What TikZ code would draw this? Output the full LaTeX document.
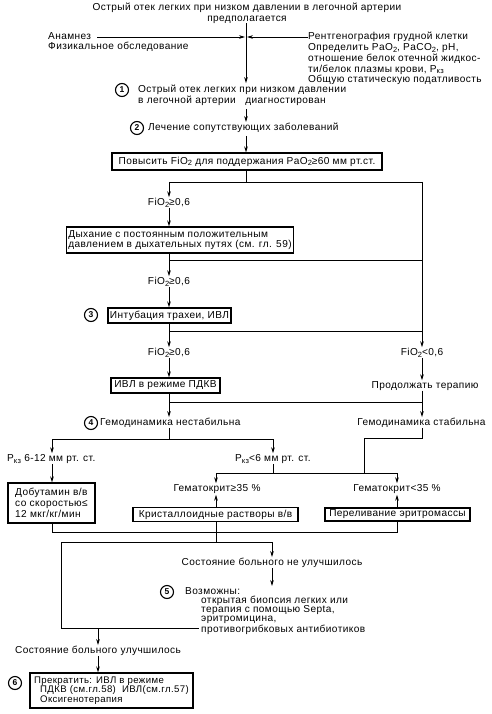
\documentclass[tikz,border=0pt]{standalone}
\usepackage{fontspec}
\setmainfont{Liberation Sans}[LetterSpace=4]
\usetikzlibrary{arrows.meta,calc}
\newcommand\lsub[1]{\raisebox{-0.35ex}{\fontsize{7.5}{7.5}\selectfont #1}}
\begin{document}
\begin{tikzpicture}[x=1pt,y=-1pt,
  every node/.style={font=\fontsize{10.1}{10.8}\selectfont, inner sep=0pt},
  ln/.style={line width=0.8pt},
  arr/.style={line width=0.8pt,-{Stealth[length=6pt,width=3.6pt]},shorten >=1pt},
  box/.style={draw,line width=1.2pt,inner xsep=2pt,inner ysep=2pt,align=left},
  num/.style={draw,circle,line width=1.1pt,minimum size=13pt,font=\bfseries\fontsize{8.5}{8.5}\selectfont},
  txt/.style={align=left}]
\useasboundingbox[fill=white] (0,0) rectangle (491,714);

% top
\node[align=center] (top) at (247,13) {Острый отек легких при низком давлении в легочной артерии\\предполагается};
\node[txt,anchor=north west] (left) at (48,32) {Анамнез\\Физикальное обследование};
\node[txt,anchor=north west] (right) at (308,32) {Рентгенография грудной клетки\\Определить PaO\lsub{2}, PaCO\lsub{2}, pH,\\отношение белок отечной жидкос-\\ти/белок плазмы крови, P\lsub{кз}\\Общую статическую податливость};
\coordinate (aL) at (97,37);
\coordinate (aR) at (308,37);
\coordinate (hitL) at (245,37);
\coordinate (hitR) at (247,37);
\draw[arr,shorten >=0pt] (aL) -- (hitL);
\draw[arr,shorten >=0pt] (aR) -- (hitR);

% step 1, 2
\node[num] (n1) at (122,90) {1};
\node[txt,anchor=west] (s1) at (138,95.5) {Острый отек легких при низком давлении\\в легочной артерии \ \ диагностирован};
\node[num] (n2) at (137,128) {2};
\node[anchor=west] (s2) at (148,128) {Лечение сопутствующих заболеваний};
\coordinate (col) at (246,0);
\draw[arr,shorten >=2pt] (top.south -| col) -- (s1.north -| col);
\draw[arr] ($(s1.south -| col)+(0,3)$) -- (s2.north -| col);

\node[box,minimum width=270pt,minimum height=17pt] (b1) at (247,161.5) {Повысить FiO\lsub{2} для поддержания PaO\lsub{2}≥60 мм рт.ст.};
\draw[arr,shorten >=0pt] ($(s2.south -| col)+(0,3)$) -- (b1.north -| col);

% branch 1
\coordinate (j1) at (246,182);
\coordinate (jL1) at (169,182);
\coordinate (jR1) at (422,182);
\draw[ln] (b1.south -| j1) -- (j1);
\draw[ln] (jL1) -- (jR1);
\node (f1) at (169,203) {FiO\lsub{2}≥0,6};
\draw[arr] (jL1) -- (f1.north -| jL1);
\node[box,minimum width=226pt,minimum height=26pt] (b2) at (180,240) {Дыхание с постоянным положительным\\давлением в дыхательных путях (см. гл. 59)};
\draw[arr,shorten >=0pt] (f1.south -| jL1) -- (b2.north -| jL1);

\coordinate (jL2) at (169,260);
\coordinate (jR2) at (422,260);
\draw[ln] (b2.south -| jL2) -- (jL2) -- (jR2);
\node (f2) at (169,282) {FiO\lsub{2}≥0,6};
\draw[arr] (jL2) -- (f2.north -| jL2);
\node[box,minimum width=121pt,minimum height=15pt] (b3) at (169.5,315.5) {Интубация трахеи, ИВЛ};
\node[num] (n3) at (91,315) {3};
\draw[arr,shorten >=0pt] (f2.south -| jL2) -- (b3.north -| jL2);

\coordinate (jL3) at (169,331);
\coordinate (jR3) at (422,331);
\draw[ln] (b3.south -| jL3) -- (jL3) -- (jR3);
\node (f3) at (169,353) {FiO\lsub{2}≥0,6};
\draw[arr] (jL3) -- (f3.north -| jL3);
\node (f4) at (422,353) {FiO\lsub{2}<0,6};
\draw[arr] (jR1) -- (f4.north -| jR1);

\node[box,minimum width=109pt,minimum height=15pt] (b4) at (165.5,385.5) {ИВЛ в режиме ПДКВ};
\draw[arr,shorten >=0pt] (f3.south -| jL3) -- (b4.north -| jL3);
\node (p1) at (425,386) {Продолжать терапию};
\draw[arr] (f4.south -| jR1) -- (p1.north -| jR1);

\coordinate (jL4) at (169,402);
\coordinate (jR4) at (422,402);
\draw[ln] (b4.south -| jL4) -- (jL4) -- (jR4);
\draw[ln] (p1.south -| jR4) -- (jR4);
\node[anchor=west] (h1) at (100,423) {Гемодинамика нестабильна};
\node[num] (n4) at (91,423) {4};
\node (h2) at (421.5,423) {Гемодинамика стабильна};
\draw[arr] (jL4) -- (h1.north -| jL4);
\draw[arr] (jR4) -- (h2.north -| jR4);

% unstable split
\coordinate (jU) at (169,439);
\coordinate (uL) at (52,439);
\coordinate (uR) at (273,439);
\draw[ln] (h1.south -| jU) -- (jU);
\draw[ln] (uL) -- (uR);
\node[anchor=west] (k1) at (7,459) {P\lsub{кз} 6-12 мм рт. ст.};
\node[anchor=west] (k2) at (235,459) {P\lsub{кз}<6 мм рт. ст.};
\draw[arr] (uL) -- (k1.north -| uL);
\draw[arr] (uR) -- (k2.north -| uR);

% stable path
\coordinate (st1) at (422,438);
\coordinate (st2) at (364,438);
\coordinate (gL) at (216,473);
\coordinate (gR) at (397,473);
\draw[ln] (h2.south -| st1) -- (st1) -- (st2) -- (st2 |- gL);
\draw[ln] (gL) -- (gR);
\draw[ln] (k2.south -| uR) -- (uR |- gL);
\node (g1) at (217,489) {Гематокрит≥35 \%};
\node (g2) at (397,489) {Гематокрит<35 \%};
\draw[arr] (gL) -- (g1.north -| gL);
\draw[arr] (gR) -- (g2.north -| gR);

\node[box,minimum width=165pt,minimum height=13pt] (kris) at (215.5,514.5) {Кристаллоидные растворы в/в};
\node[box,minimum width=145pt,minimum height=13pt] (perel) at (397.5,514.5) {Переливание эритромассы};
\node[box,minimum width=87pt,minimum height=40pt] (dob) at (51.5,503) {Добутамин в/в\\со скоростью≤\\12 мкг/кг/мин};
\draw[arr] (kris.north -| gL) -- (g1.south -| gL);
\draw[arr] (perel.north -| gR) -- (g2.south -| gR);
\draw[arr,shorten >=0pt] (k1.south -| uL) -- (dob.north -| uL);

% bottom
\coordinate (bL) at (52,532);
\coordinate (bR) at (397,532);
\coordinate (mL) at (61,542);
\coordinate (mR) at (272,542);
\draw[ln] (dob.south -| bL) -- (bL) -- (bR) -- (perel.south -| bR);
\draw[ln] (kris.south -| gL) -- (gL |- mL);
\draw[ln] (mL) -- (mR);
\node (ni) at (272,563) {Состояние больного не улучшилось};
\draw[arr] (mR) -- (ni.north -| mR);
\node[num] (n5) at (167,592) {5};
\node[txt,anchor=north west,font=\fontsize{10.1}{9.2}\selectfont] (v5) at (185,587) {Возможны:\\\hspace*{16pt}открытая биопсия легких или\\\hspace*{16pt}терапия с помощью Septa,\\\hspace*{16pt}эритромицина,\\\hspace*{16pt}противогрибковых антибиотиков};
\draw[arr] (ni.south -| mR) -- (v5.north -| mR);

\coordinate (lowL) at (61,628);
\coordinate (lowR) at (199,628);
\coordinate (lowM) at (98,628);
\draw[ln] (mL) -- (lowL) -- (lowR);
\node (im) at (98,651) {Состояние больного улучшилось};
\draw[arr] (lowM) -- (im.north -| lowM);
\node[box,minimum width=163pt,minimum height=35pt,font=\fontsize{9.6}{9.2}\selectfont] (b6) at (111.5,690.5) {Прекратить: ИВЛ в режиме\\\hspace*{6pt}ПДКВ (см.гл.58) \ ИВЛ(см.гл.57)\\\hspace*{6pt}Оксигенотерапия};
\node[num] (n6) at (15,683) {6};
\draw[arr,shorten >=0pt] (im.south -| lowM) -- (b6.north -| lowM);
\end{tikzpicture}
\end{document}
